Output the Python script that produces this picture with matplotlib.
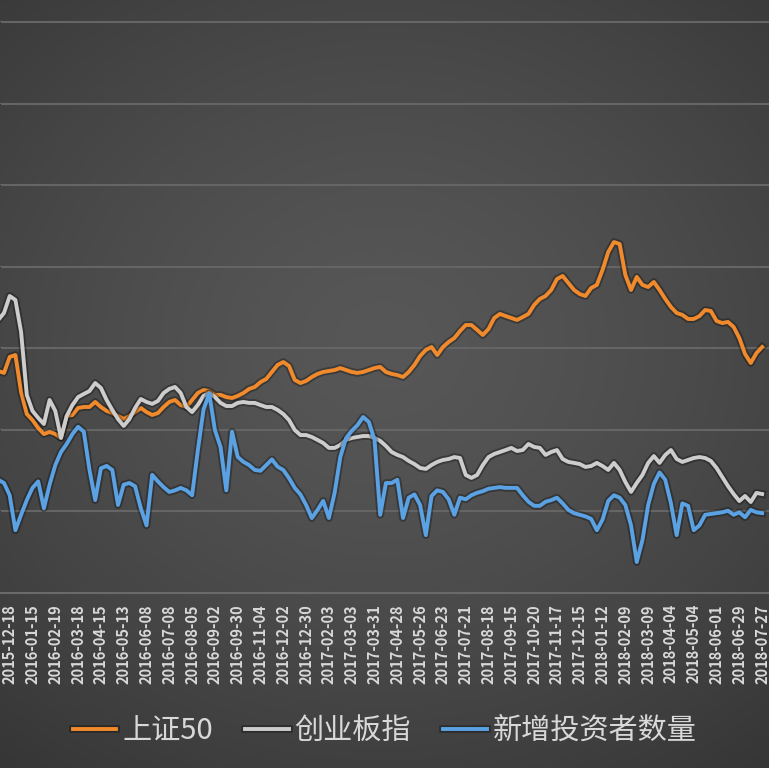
import matplotlib
matplotlib.use('Agg')
import matplotlib.pyplot as plt
import matplotlib.patheffects as pe
import numpy as np

plt.rcParams['font.family'] = ['Noto Sans CJK SC', 'DejaVu Sans']

# ── Data (weekly) ────────────────────────────────────────────────────────────
tick_labels = [
    '2015-12-18', '2016-01-15', '2016-02-19', '2016-03-18', '2016-04-15',
    '2016-05-13', '2016-06-08', '2016-07-08', '2016-08-05', '2016-09-02',
    '2016-09-30', '2016-11-04', '2016-12-02', '2016-12-30', '2017-02-03',
    '2017-03-03', '2017-03-31', '2017-04-28', '2017-05-26', '2017-06-23',
    '2017-07-21', '2017-08-18', '2017-09-15', '2017-10-20', '2017-11-17',
    '2017-12-15', '2018-01-12', '2018-02-09', '2018-03-09', '2018-04-04',
    '2018-05-04', '2018-06-01', '2018-06-29', '2018-07-27',
]

sz50 = [
    2362, 2350, 2448, 2460, 2233, 2098, 2061, 2012, 1975, 1988,
    1975, 1951, 2086, 2092, 2135, 2141, 2141, 2172, 2141, 2117,
    2104, 2086, 2067, 2086, 2110, 2135, 2110, 2092, 2104, 2141,
    2172, 2184, 2153, 2141, 2184, 2227, 2245, 2239, 2215, 2215,
    2202, 2196, 2209, 2227, 2252, 2264, 2294, 2313, 2356, 2399,
    2417, 2393, 2307, 2288, 2301, 2325, 2344, 2356, 2362, 2368,
    2380, 2368, 2356, 2350, 2356, 2368, 2380, 2387, 2356, 2344,
    2337, 2325, 2356, 2399, 2454, 2491, 2509, 2460, 2509, 2540,
    2564, 2607, 2644, 2644, 2614, 2583, 2620, 2687, 2712, 2699,
    2687, 2675, 2693, 2712, 2767, 2804, 2822, 2859, 2926, 2945,
    2902, 2859, 2834, 2822, 2871, 2890, 2982, 3092, 3153, 3141,
    2951, 2859, 2939, 2890, 2877, 2908, 2859, 2804, 2755, 2718,
    2706, 2681, 2681, 2699, 2736, 2730, 2669, 2656, 2663, 2632,
    2564, 2466, 2411, 2472, 2509,
]

cyb = [
    2675, 2718, 2822, 2798, 2601, 2215, 2117, 2074, 2037, 2184,
    2117, 1951, 2086, 2153, 2202, 2221, 2239, 2288, 2258, 2184,
    2123, 2067, 2025, 2067, 2135, 2190, 2172, 2160, 2178, 2227,
    2252, 2264, 2227, 2141, 2110, 2153, 2209, 2227, 2202, 2166,
    2147, 2147, 2166, 2172, 2166, 2166, 2153, 2141, 2141, 2123,
    2098, 2061, 2000, 1969, 1969, 1957, 1939, 1920, 1890, 1890,
    1908, 1939, 1951, 1957, 1963, 1963, 1951, 1933, 1902, 1865,
    1847, 1834, 1810, 1791, 1767, 1761, 1785, 1804, 1816, 1822,
    1834, 1828, 1724, 1706, 1724, 1785, 1834, 1853, 1865, 1877,
    1890, 1871, 1877, 1914, 1896, 1890, 1847, 1865, 1877, 1822,
    1804, 1798, 1791, 1773, 1779, 1798, 1779, 1755, 1798, 1755,
    1681, 1620, 1675, 1724, 1798, 1840, 1798, 1847, 1877, 1822,
    1804, 1816, 1828, 1834, 1828, 1810, 1767, 1712, 1656, 1607,
    1564, 1595, 1558, 1614, 1607,
]

# 新增投资者数量 (万人, secondary axis)
new_investors = [
    23.9, 23.5, 22.0, 17.7, 19.6, 21.4, 22.9, 23.7, 20.4, 23.3,
    25.7, 27.3, 28.3, 29.5, 30.4, 29.8, 25.1, 21.4, 25.3, 25.6,
    25.1, 20.8, 23.3, 23.5, 23.1, 20.4, 18.3, 24.5, 23.7, 23.0,
    22.4, 22.6, 22.9, 22.6, 22.0, 27.5, 32.5, 34.5, 30.0, 27.9,
    22.6, 29.8, 26.7, 26.1, 25.7, 25.1, 25.0, 25.7, 26.4, 25.5,
    25.1, 24.1, 22.9, 22.1, 20.8, 19.2, 20.2, 21.3, 19.2, 22.3,
    26.7, 29.0, 29.9, 30.6, 31.6, 31.0, 28.8, 19.6, 23.5, 23.5,
    23.9, 19.2, 21.7, 22.1, 20.8, 17.1, 21.9, 22.6, 22.4, 21.5,
    19.6, 21.7, 21.5, 22.0, 22.3, 22.5, 22.8, 22.9, 23.0, 22.9,
    22.9, 22.9, 22.0, 21.2, 20.7, 20.7, 21.2, 21.4, 21.7, 21.0,
    20.2, 19.8, 19.6, 19.4, 19.1, 17.7, 19.0, 21.3, 22.0, 21.7,
    20.8, 18.3, 13.8, 16.5, 20.8, 23.4, 24.8, 23.9, 21.0, 17.1,
    21.0, 20.7, 17.7, 18.3, 19.6, 19.7, 19.8, 19.9, 20.1, 19.6,
    19.9, 19.3, 20.2, 19.9, 19.8,
]

x = np.arange(len(sz50))
tick_pos = np.arange(2, len(sz50), 4)

ORANGE = '#f08a2c'
GRAY = '#cdcdcd'
BLUE = '#5aa2e4'
TEXT = '#d8d8d8'

fig = plt.figure(figsize=(7.69, 7.68), dpi=100)

# ── Dark radial-gradient background ──────────────────────────────────────────
bg = fig.add_axes([0, 0, 1, 1], zorder=-10)
gy, gx = np.mgrid[0:1:300j, 0:1:300j]
r = np.sqrt(((gx - 0.5) / 0.8) ** 2 + ((gy - 0.45) / 0.7) ** 2)
r = np.clip(r, 0, 1) ** 1.4
c_mid = np.array([0x57, 0x57, 0x57]) / 255
c_edge = np.array([0x36, 0x36, 0x36]) / 255
img = c_mid + (c_edge - c_mid) * r[..., None]
bg.imshow(img, extent=[0, 1, 0, 1], aspect='auto', origin='upper')
bg.set_axis_off()

# ── Main axes ────────────────────────────────────────────────────────────────
ax = fig.add_axes([0, 0.2279, 1, 0.7721])
ax.set_facecolor('none')
ax.set_xlim(0.3, 135.2)
ax.set_ylim(1000, 4638)
ax.set_yticks(np.arange(1500, 4501, 500))
ax.yaxis.grid(True, color='#656565', linewidth=1.5)
ax.set_axisbelow(True)
for s in ['top', 'right', 'left']:
    ax.spines[s].set_visible(False)
ax.spines['bottom'].set_color('#6a6a6a')
ax.spines['bottom'].set_linewidth(1.5)
ax.tick_params(axis='y', left=False, labelleft=False)
ax.set_xticks(tick_pos)
ax.set_xticklabels(tick_labels, rotation=90, fontsize=10.5, color=TEXT,
                   fontweight='bold')
ax.tick_params(axis='x', length=0, pad=8)

shadow = [pe.Stroke(linewidth=5.5, foreground='black', alpha=0.3), pe.Normal()]
l1, = ax.plot(x, sz50, color=ORANGE, lw=2.8, label='上证50', path_effects=shadow)
l2, = ax.plot(x, cyb, color=GRAY, lw=2.8, label='创业板指', path_effects=shadow)

ax2 = ax.twinx()
ax2.set_ylim(10, 82.8)
ax2.set_facecolor('none')
for s in ax2.spines.values():
    s.set_visible(False)
ax2.tick_params(axis='y', right=False, labelright=False)
l3, = ax2.plot(x, new_investors, color=BLUE, lw=2.8, label='新增投资者数量',
               path_effects=shadow)

# ── Legend ───────────────────────────────────────────────────────────────────
fig.legend(handles=[l1, l2, l3], loc='center', bbox_to_anchor=(0.5, 0.048),
           ncol=3, frameon=False, fontsize=21, labelcolor=TEXT,
           handlelength=1.5, handletextpad=0.2, columnspacing=1.1)

fig.savefig('out.png', dpi=100)
